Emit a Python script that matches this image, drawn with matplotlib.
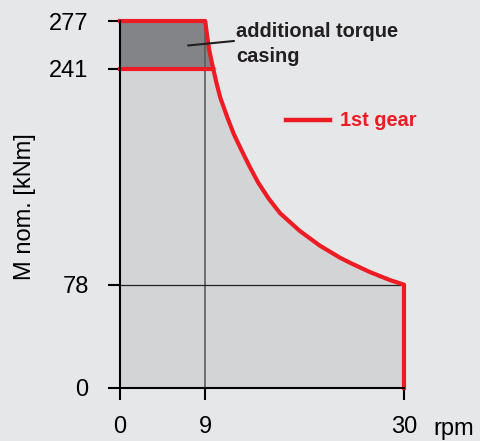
import numpy as np
import matplotlib
matplotlib.use('Agg')
import matplotlib.pyplot as plt

# torque curve of the 1st gear (rpm, kNm)
rpm = [0, 9, 9.2, 9.4, 9.75, 10.2, 10.6, 11.3, 12.0, 12.8, 13.7, 14.6, 15.7, 16.9,
       19.0, 21.1, 23.2, 24.3, 26.4, 28.5, 30]
torque = [277, 277, 266, 256, 244, 230, 219, 205, 192, 180, 167, 155, 143, 132,
          118.5, 107.5, 98.5, 94.5, 87.5, 81.5, 78]
nominal_torque = 241
casing_torque = 277
rated_rpm = 9
corner_torque = 78
x_ticks = [0, 9, 30]
y_ticks = [0, 78, 241, 277]

bg = '#e6e7e8'
light = '#d3d4d6'
dark = '#838487'
red = '#ed1c24'
ink = '#231f20'

plt.rcParams['font.family'] = ['Liberation Sans', 'DejaVu Sans']

fig = plt.figure(figsize=(4.8, 4.41), dpi=100, facecolor=bg)
ax = fig.add_axes([120 / 480, 53 / 441, 284 / 480, 367 / 441])
ax.set_facecolor(bg)

x = np.array(rpm, dtype=float)
y = np.array(torque, dtype=float)

# filled areas
ax.fill_between(x, 0, np.minimum(y, nominal_torque), color=light, lw=0)
ax.fill_between(x, nominal_torque, np.maximum(y, nominal_torque), where=y >= nominal_torque,
                interpolate=True, color=dark, lw=0)

# reference lines
ax.plot([rated_rpm, rated_rpm], [0, casing_torque], color='#5c5c5c', lw=1.2)
ax.plot([0, x[-1]], [corner_torque, corner_torque], color='#222222', lw=0.9)

# red outline
ax.plot(list(x) + [x[-1]], list(y) + [0], color=red, lw=3, clip_on=False,
        solid_joinstyle='round', zorder=5)
x_cut = np.interp(nominal_torque, y[::-1], x[::-1])
ax.plot([0, x_cut], [nominal_torque, nominal_torque], color=red, lw=3, clip_on=False, zorder=5)

ax.set_xlim(0, 30)
ax.set_ylim(0, 277)
ax.set_xticks(x_ticks)
ax.set_yticks(y_ticks)
for s in ['top', 'right']:
    ax.spines[s].set_visible(False)
for s in ['left', 'bottom']:
    ax.spines[s].set_linewidth(1.5)
    ax.spines[s].set_color('black')
    ax.spines[s].set_zorder(6)
ax.tick_params(axis='both', length=8.5, width=1.5, labelsize=17, colors='black')
ax.tick_params(axis='y', pad=14)
ax.tick_params(axis='x', pad=12)

fig.text(25 / 480, 1 - 207 / 441, 'M nom. [kNm]', rotation=90, fontsize=17,
         ha='center', va='center')
fig.text(433 / 480, 6 / 441, 'rpm', fontsize=17, ha='left', va='baseline')

# annotation
fig.text(236 / 480, 1 - 37 / 441, 'additional torque', fontsize=14.4, fontweight='bold',
         color=ink, ha='left', va='baseline')
fig.text(236 / 480, 1 - 62 / 441, 'casing', fontsize=14.4, fontweight='bold',
         color=ink, ha='left', va='baseline')
ax.annotate('', xy=(188 / 480, 1 - 45.5 / 441), xytext=(234 / 480, 1 - 41 / 441),
            xycoords='figure fraction', textcoords='figure fraction',
            arrowprops=dict(arrowstyle='-', color=ink, lw=1.5, shrinkA=0, shrinkB=0),
            zorder=7)

# legend
ax.plot([(286 - 120) / 284, (330 - 120) / 284], [(388 - 120) / 367] * 2,
        transform=ax.transAxes, color=red, lw=3.2, clip_on=False)
fig.text(340 / 480, 1 - 126 / 441, '1st gear', fontsize=14.4, fontweight='bold',
         color=red, ha='left', va='baseline')

plt.savefig('out.png', dpi=100, facecolor=bg)
plt.close()
